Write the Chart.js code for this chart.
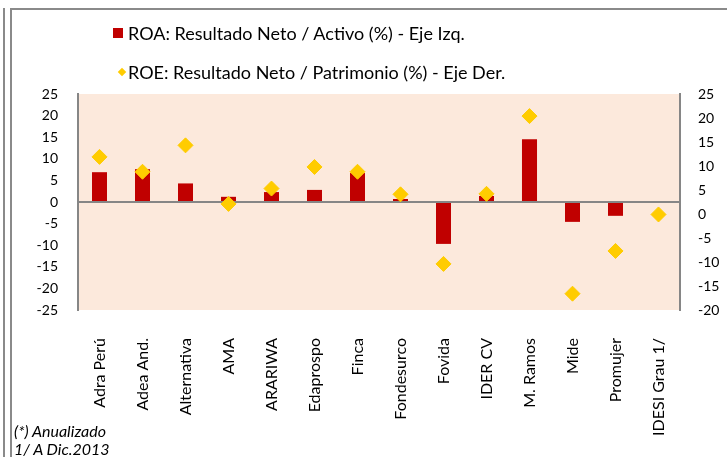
<!DOCTYPE html>
<html>
<head>
  <title>ROA y ROE</title>
  <script src="https://cdn.jsdelivr.net/npm/chart.js"></script>
  <style>
    body { margin: 0; background: #fff; font-family: Lato, sans-serif; }
    .frame { position: relative; width: 727px; height: 457px; overflow: hidden; }
    .line { position: absolute; background: #8a8a8a; }
    .leg { position: absolute; left: 128px; font-size: 18px; color: #000; line-height: 20px; white-space: nowrap; }
    .sq { position: absolute; left: 113px; top: 28px; width: 10px; height: 10px; background: #C00000; }
    .dia { position: absolute; left: 119px; top: 69px; width: 6px; height: 6px; background: #FFCC00; transform: rotate(45deg); }
    .note { position: absolute; left: 14px; font-size: 16px; font-style: italic; line-height: 18px; white-space: nowrap; }
    #chartBox { position: absolute; left: 0; top: 0; width: 727px; height: 457px; }
  </style>
</head>
<body>
  <div class="frame">
    <div id="chartBox"><canvas id="chart_roa"></canvas></div>
    <div class="line" style="left:3px; top:8px; width:2px; height:449px;"></div>
    <div class="line" style="left:10px; top:8px; width:2px; height:449px;"></div>
    <div class="line" style="left:10px; top:8px; width:717px; height:2px;"></div>
    <div class="sq"></div>
    <div class="leg" id="leg1" style="top:23px;"></div>
    <div class="dia"></div>
    <div class="leg" id="leg2" style="top:62px;"></div>
    <div class="note" style="top:422px;">(*) Anualizado</div>
    <div class="note" style="top:440px;">1/ A Dic.2013</div>
  </div>

  <script>
    // Categories and values
    const entidades = ['Adra Perú', 'Adea And.', 'Alternativa', 'AMA', 'ARARIWA', 'Edaprospo', 'Finca',
      'Fondesurco', 'Fovida', 'IDER CV', 'M. Ramos', 'Mide', 'Promujer', 'IDESI Grau 1/'];
    const roa = [6.9, 7.6, 4.3, 1.2, 2.3, 2.8, 6.7, 0.7, -9.7, 1.4, 14.5, -4.6, -3.2, null];
    const roe = [11.9, 8.8, 14.3, 2.1, 5.3, 9.8, 8.8, 4.1, -10.4, 4.2, 20.4, -16.6, -7.7, -0.1];
    const roaLabel = 'ROA: Resultado Neto / Activo (%) - Eje Izq.';
    const roeLabel = 'ROE: Resultado Neto / Patrimonio (%) - Eje Der.';

    document.getElementById('leg1').textContent = roaLabel;
    document.getElementById('leg2').textContent = roeLabel;

    // peach background behind the plot
    const plotBackground = {
      id: 'plotBackground',
      beforeDraw(chart) {
        const { ctx, chartArea: a } = chart;
        ctx.save();
        ctx.fillStyle = '#FCE9DC';
        ctx.fillRect(a.left, a.top, a.right - a.left, a.bottom - a.top);
        ctx.restore();
      }
    };

    const tickFont = { family: 'Lato', size: 14 };

    new Chart(document.getElementById('chart_roa').getContext('2d'), {
      data: {
        labels: entidades,
        datasets: [
          {
            type: 'line',
            label: roeLabel,
            data: roe,
            yAxisID: 'y1',
            showLine: false,
            pointStyle: 'rectRot',
            pointRadius: 7.5,
            backgroundColor: '#FFCC00',
            borderColor: '#FFCC00',
            borderWidth: 1,
            order: 0
          },
          {
            type: 'bar',
            label: roaLabel,
            data: roa,
            yAxisID: 'y',
            backgroundColor: '#C00000',
            barPercentage: 0.35,
            categoryPercentage: 1,
            order: 1
          }
        ]
      },
      options: {
        responsive: true,
        maintainAspectRatio: false,
        animation: false,
        layout: { padding: { top: 94, left: 0, right: 0, bottom: 0 } },
        plugins: { legend: { display: false }, tooltip: { enabled: false } },
        scales: {
          x: {
            grid: { display: false },
            border: { display: false },
            ticks: { color: '#000', font: { family: 'Lato', size: 16 }, minRotation: 90, maxRotation: 90, padding: 20, autoSkip: false },
            afterFit(scale) { scale.height = 147; }
          },
          y: {
            position: 'left',
            min: -25,
            max: 25,
            grid: {
              drawTicks: false,
              lineWidth: 2,
              color: (c) => (c.tick && c.tick.value === 0 ? '#868686' : 'rgba(0,0,0,0)')
            },
            border: { color: '#868686', width: 2 },
            ticks: { stepSize: 5, color: '#000', font: tickFont, padding: 20 },
            afterFit(scale) { scale.width = 78; }
          },
          y1: {
            position: 'right',
            min: -20,
            max: 25,
            grid: { display: false, drawTicks: false },
            border: { color: '#868686', width: 2 },
            ticks: { stepSize: 5, color: '#000', font: tickFont, padding: 18 },
            afterFit(scale) { scale.width = 47; }
          }
        }
      },
      plugins: [plotBackground]
    });
  </script>
</body>
</html>
